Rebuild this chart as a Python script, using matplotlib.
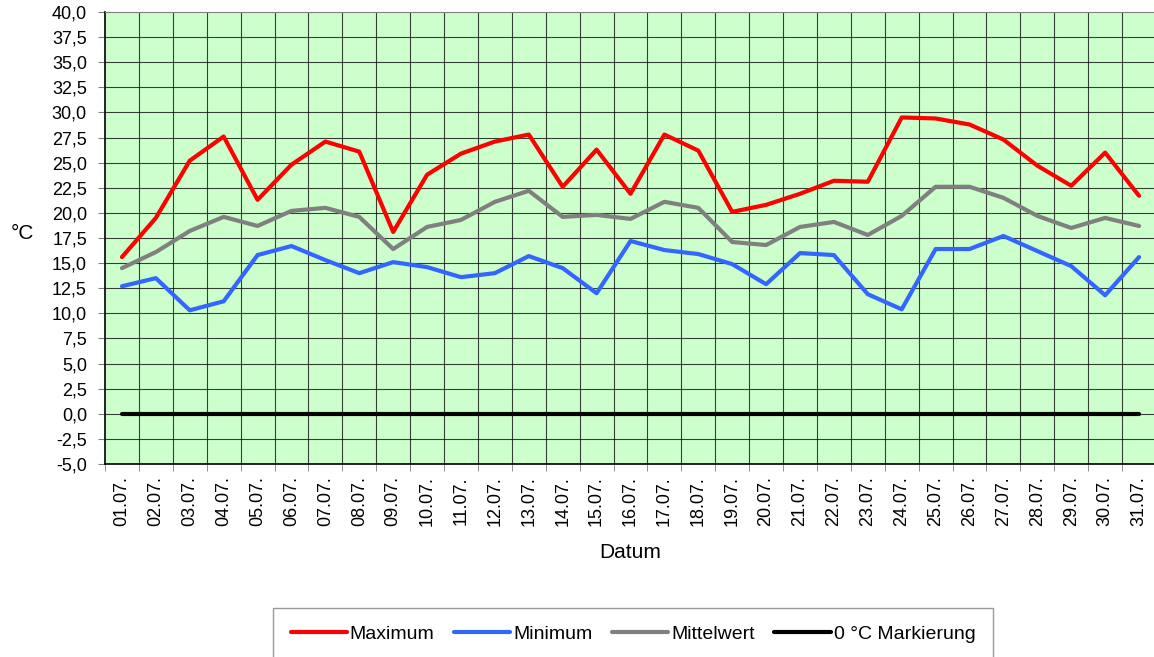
import numpy as np
import matplotlib
matplotlib.use("Agg")
import matplotlib.pyplot as plt
from matplotlib.ticker import FixedLocator, FuncFormatter

plt.rcParams['font.family'] = ['Liberation Sans', 'DejaVu Sans']

tage = ["%02d.07." % d for d in range(1, 32)]

maximum = [15.6, 19.5, 25.2, 27.6, 21.3, 24.8, 27.1, 26.1, 18.1, 23.8,
           25.9, 27.1, 27.8, 22.6, 26.3, 21.9, 27.8, 26.2, 20.1, 20.8,
           21.9, 23.2, 23.1, 29.5, 29.4, 28.8, 27.3, 24.7, 22.7, 26.0, 21.7]
minimum = [12.7, 13.5, 10.3, 11.2, 15.8, 16.7, 15.3, 14.0, 15.1, 14.6,
           13.6, 14.0, 15.7, 14.5, 12.0, 17.2, 16.3, 15.9, 14.9, 12.9,
           16.0, 15.8, 11.9, 10.4, 16.4, 16.4, 17.7, 16.2, 14.7, 11.8, 15.6]
mittel = [14.5, 16.1, 18.2, 19.6, 18.7, 20.2, 20.5, 19.6, 16.4, 18.6,
          19.3, 21.1, 22.2, 19.6, 19.8, 19.4, 21.1, 20.5, 17.1, 16.8,
          18.6, 19.1, 17.8, 19.7, 22.6, 22.6, 21.5, 19.7, 18.5, 19.5, 18.7]
null_linie = [0.0] * 31

x = np.arange(len(tage))

fig = plt.figure(figsize=(11.54, 6.57), dpi=100)
ax = fig.add_axes([105/1154, 1 - 464/657, (1156 - 105)/1154, (464 - 12)/657])
ax.set_facecolor('#CCFFCC')

ax.plot(x, maximum, color='#FF0000', lw=3, label='Maximum', solid_capstyle='round')
ax.plot(x, minimum, color='#3366FF', lw=3, label='Minimum', solid_capstyle='round')
ax.plot(x, mittel, color='#808080', lw=3, label='Mittelwert', solid_capstyle='round')
ax.plot(x, null_linie, color='black', lw=3, label='0 °C Markierung', solid_capstyle='round')

ax.set_xlim(-0.5, len(tage) - 0.5)
ax.set_ylim(-5, 40)

# Gitter: horizontal alle 2,5, vertikal zwischen den Tagen
ax.yaxis.set_major_locator(FixedLocator(np.arange(-5, 40.1, 2.5)))
ax.yaxis.set_major_formatter(FuncFormatter(lambda v, p: ("%.1f" % v).replace('.', ',')))
for yv in np.arange(-2.5, 40, 2.5):
    ax.axhline(yv, color='black', lw=0.8, alpha=0.75, zorder=0.5)
for xv in np.arange(0.5, len(tage) - 0.5, 1):
    ax.axvline(xv, color='black', lw=0.8, alpha=0.75, zorder=0.5)

ax.set_xticks(x)
ax.set_xticklabels(tage, rotation=90, fontsize=13)
ax.set_xticks(np.arange(-0.5, len(tage), 1), minor=True)
ax.tick_params(axis='x', which='major', length=0, pad=9)
ax.tick_params(axis='x', which='minor', length=5, color='#808080')
ax.tick_params(axis='y', labelsize=13, length=5, color='#808080', pad=8)

for s in ['top', 'right']:
    ax.spines[s].set_color('#808080')
ax.spines['left'].set_color('black')
ax.spines['left'].set_linewidth(1.2)
ax.spines['bottom'].set_color('black')
ax.spines['bottom'].set_linewidth(1.2)

ax.set_xlabel('Datum', fontsize=15, labelpad=12)
ax.set_ylabel('°C', fontsize=15, rotation=0, labelpad=0)
ax.yaxis.set_label_coords(-0.079, 0.49)

leg = fig.legend(loc='upper center', bbox_to_anchor=(633/1154, 1 - 598/657), ncol=4,
                 fontsize=14, frameon=True, fancybox=False, handlelength=2.9,
                 handletextpad=0.15, columnspacing=1.0, borderpad=0.9)
leg.get_frame().set_edgecolor('#808080')
leg.get_frame().set_linewidth(1.0)

fig.savefig('out.png', dpi=100)
